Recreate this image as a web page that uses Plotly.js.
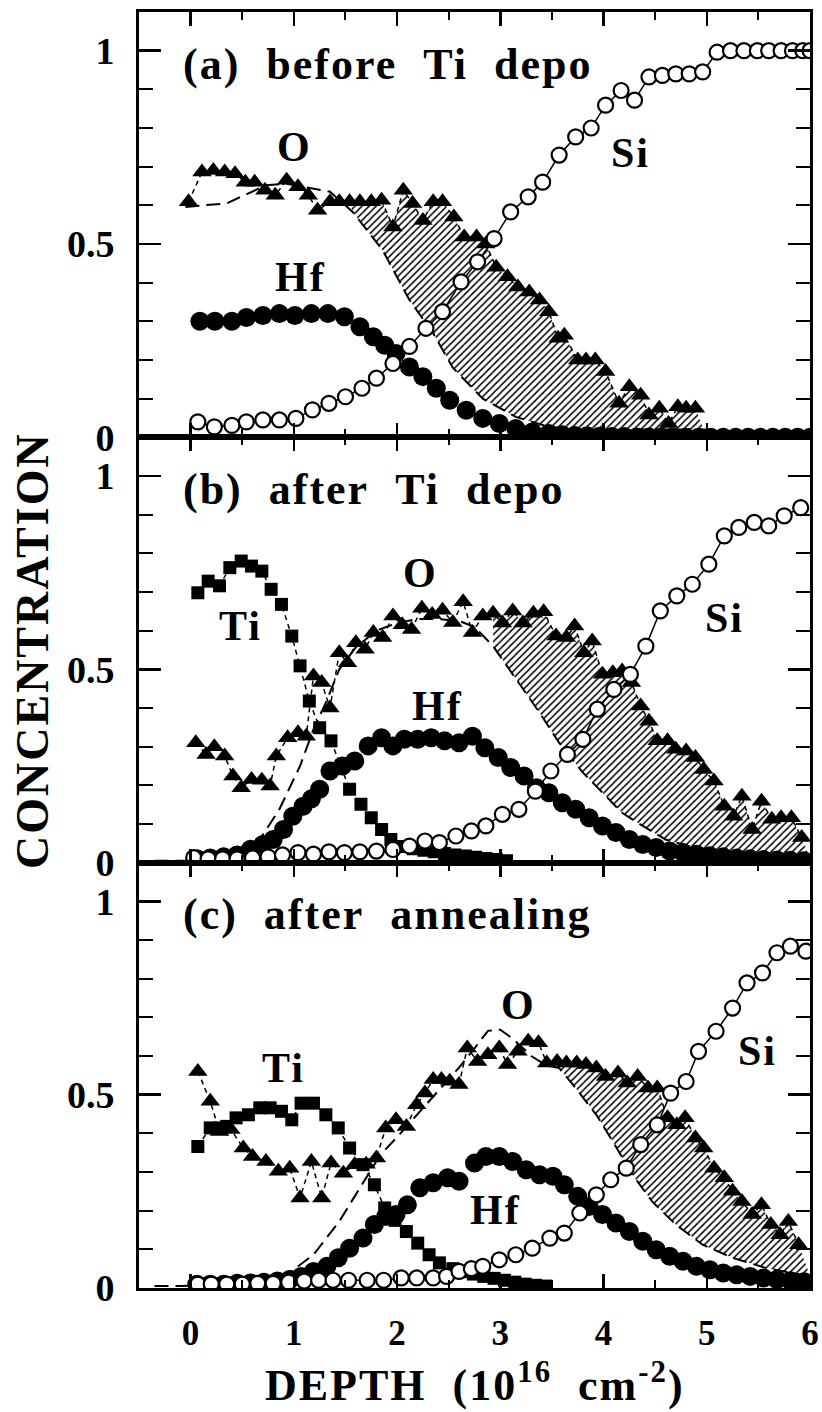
<!DOCTYPE html>
<html><head><meta charset="utf-8">
<script src="https://cdn.plot.ly/plotly-3.0.1.min.js"></script>
<style>
html,body{margin:0;padding:0;background:#fff;}
#chart{width:822px;height:1412px;}
.annotation-text{letter-spacing:2px;}
</style></head><body><div id="chart"></div>
<script>
// ---------- Panel (a) before Ti depo ----------
const aSiX = [0.07,0.23,0.40,0.54,0.70,0.86,1.02,1.18,1.34,1.50,1.66,1.80,1.96,2.12,2.28,2.44,2.62,2.78,2.94,3.10,3.27,3.41,3.57,3.73,3.88,4.02,4.17,4.30,4.44,4.57,4.70,4.83,4.96,5.10,5.23,5.36,5.49,5.60,5.72,5.83,5.93,6.00];
const aSiY = [0.04,0.027,0.031,0.04,0.045,0.045,0.049,0.071,0.088,0.105,0.127,0.153,0.191,0.235,0.282,0.325,0.402,0.454,0.514,0.583,0.622,0.66,0.73,0.777,0.80,0.859,0.897,0.872,0.932,0.936,0.94,0.94,0.945,0.996,1.0,1.0,1.0,1.0,1.0,1.0,1.0,1.0];
const aHfX = [0.09,0.235,0.40,0.54,0.70,0.86,1.01,1.17,1.33,1.49,1.64,1.77,1.88,1.99,2.12,2.25,2.38,2.51,2.67,2.83,2.99,3.15,3.31,3.47,3.60,3.72,3.84,3.96,4.08,4.20,4.32,4.44,4.56,4.68,4.80,4.92,5.04,5.16,5.28,5.40,5.52,5.64,5.76,5.88,6.0];
const aHfY = [0.30,0.30,0.30,0.31,0.315,0.32,0.315,0.32,0.32,0.312,0.286,0.26,0.238,0.217,0.182,0.157,0.127,0.096,0.07,0.049,0.036,0.023,0.014,0.01,0.007,0.005,0.004,0.003,0.002,0.002,0.001,0.001,0,0,0,0,0,0,0,0,0,0,0,0,0];
const aOX = [-0.02,0.11,0.22,0.33,0.43,0.53,0.62,0.72,0.82,0.93,1.04,1.14,1.23,1.35,1.44,1.54,1.64,1.75,1.85,1.96,2.06,2.15,2.25,2.35,2.44,2.55,2.65,2.77,2.86,2.96,3.07,3.17,3.28,3.38,3.47,3.56,3.62,3.75,3.83,3.92,4.02,4.15,4.25,4.36,4.44,4.54,4.63,4.72,4.80,4.89];
const aOY = [0.609,0.686,0.69,0.686,0.682,0.66,0.66,0.639,0.626,0.665,0.648,0.626,0.587,0.609,0.609,0.609,0.609,0.609,0.613,0.544,0.639,0.605,0.561,0.609,0.609,0.57,0.518,0.518,0.50,0.44,0.415,0.389,0.376,0.355,0.325,0.256,0.264,0.20,0.20,0.20,0.17,0.088,0.131,0.109,0.058,0.075,0.036,0.079,0.075,0.075];
const aDashX = [-0.05,0.35,0.73,0.93,1.35,1.57,1.86,2.12,2.35,2.54,2.83,3.15,3.47,3.80,4.44,4.97,5.5,6.0];
const aDashY = [0.596,0.605,0.652,0.656,0.635,0.583,0.484,0.355,0.269,0.18,0.10,0.053,0.027,0.019,0.02,0.02,0.01,0.005];
const aHatchRange = [1.54, 4.97];

// ---------- Panel (b) after Ti depo ----------
const bTiX = [0.07,0.17,0.28,0.38,0.49,0.59,0.69,0.78,0.88,0.98,1.06,1.15,1.25,1.36,1.54,1.65,1.75,1.85,1.94,2.06,2.16,2.26,2.36,2.46,2.56,2.66,2.76,2.86,2.96,3.06];
const bTiY = [0.698,0.728,0.716,0.763,0.78,0.767,0.754,0.707,0.668,0.586,0.509,0.418,0.349,0.315,0.19,0.151,0.116,0.086,0.06,0.042,0.036,0.032,0.028,0.024,0.02,0.017,0.014,0.011,0.008,0.005];
const bOX = [0.05,0.15,0.23,0.33,0.41,0.49,0.59,0.69,0.77,0.83,0.94,1.04,1.12,1.19,1.27,1.35,1.44,1.52,1.60,1.69,1.77,1.86,1.96,2.05,2.14,2.24,2.34,2.44,2.54,2.64,2.73,2.83,2.93,3.02,3.12,3.22,3.32,3.42,3.54,3.64,3.72,3.81,3.89,3.99,4.09,4.18,4.27,4.36,4.44,4.52,4.62,4.70,4.80,4.89,4.97,5.07,5.17,5.26,5.34,5.44,5.53,5.63,5.72,5.82,5.92];
const bOY = [0.31,0.28,0.30,0.276,0.224,0.194,0.215,0.213,0.198,0.276,0.323,0.336,0.327,0.483,0.466,0.40,0.543,0.517,0.569,0.552,0.595,0.582,0.638,0.615,0.603,0.658,0.642,0.653,0.621,0.675,0.595,0.638,0.645,0.62,0.651,0.62,0.645,0.649,0.586,0.582,0.612,0.543,0.573,0.487,0.491,0.496,0.466,0.405,0.366,0.315,0.315,0.293,0.289,0.272,0.241,0.211,0.146,0.12,0.172,0.086,0.159,0.112,0.116,0.116,0.065];
const bHfX = [0.06,0.19,0.32,0.45,0.58,0.70,0.80,0.90,0.99,1.09,1.17,1.25,1.35,1.47,1.59,1.72,1.85,1.96,2.07,2.20,2.33,2.46,2.60,2.73,2.85,2.98,3.10,3.23,3.35,3.47,3.60,3.73,3.86,3.99,4.12,4.25,4.38,4.51,4.64,4.77,4.90,5.03,5.16,5.29,5.42,5.55,5.68,5.81,5.94];
const bHfY = [0.01,0.012,0.015,0.02,0.035,0.047,0.06,0.086,0.12,0.146,0.165,0.19,0.237,0.25,0.263,0.302,0.323,0.302,0.319,0.319,0.323,0.315,0.31,0.327,0.297,0.272,0.246,0.224,0.194,0.181,0.155,0.138,0.116,0.095,0.078,0.06,0.047,0.039,0.03,0.026,0.022,0.018,0.015,0.012,0.01,0.008,0.007,0.006,0.005];
const bSiX = [0.03,0.17,0.31,0.45,0.60,0.75,0.89,1.04,1.19,1.34,1.49,1.64,1.80,1.96,2.12,2.27,2.41,2.57,2.72,2.86,3.02,3.18,3.34,3.49,3.65,3.80,3.94,4.10,4.26,4.41,4.55,4.71,4.86,5.02,5.17,5.31,5.46,5.60,5.75,5.91];
const bSiY = [0.013,0.01,0.01,0.01,0.012,0.015,0.02,0.026,0.022,0.028,0.026,0.028,0.03,0.034,0.043,0.056,0.052,0.069,0.082,0.095,0.125,0.138,0.185,0.237,0.28,0.319,0.397,0.448,0.487,0.56,0.651,0.69,0.72,0.772,0.845,0.867,0.88,0.871,0.897,0.918];
const bDashX = [-0.35,-0.1,0.3,0.5,0.67,0.86,1.06,1.19,1.31,1.44,1.60,1.80,2.0,2.2,2.4,2.6,2.75,2.93,3.09,3.25,3.38,3.57,3.80,3.99,4.18,4.38,4.60,4.93,5.41,5.92,6.0];
const bDashY = [0.005,0.005,0.005,0.02,0.06,0.138,0.25,0.345,0.414,0.50,0.557,0.60,0.62,0.63,0.63,0.625,0.61,0.56,0.50,0.44,0.388,0.31,0.233,0.181,0.129,0.095,0.06,0.034,0.017,0.01,0.01];
const bHatchRange = [2.9, 6.0];

// ---------- Panel (c) after annealing ----------
const cTiX = [0.07,0.19,0.28,0.35,0.44,0.56,0.67,0.77,0.88,0.98,1.07,1.19,1.31,1.43,1.54,1.67,1.78,1.88,1.98,2.09,2.20,2.31,2.41,2.54,2.64,2.74,2.84,2.94,3.04,3.14,3.24,3.34,3.44];
const cTiY = [0.366,0.414,0.414,0.418,0.44,0.448,0.466,0.466,0.457,0.435,0.478,0.478,0.448,0.414,0.362,0.319,0.267,0.207,0.175,0.146,0.116,0.086,0.065,0.05,0.042,0.036,0.03,0.025,0.02,0.015,0.01,0.007,0.005];
const cOX = [0.07,0.19,0.28,0.39,0.51,0.60,0.73,0.85,0.96,1.06,1.17,1.27,1.36,1.48,1.59,1.70,1.80,1.89,1.99,2.09,2.19,2.27,2.35,2.43,2.51,2.60,2.68,2.78,2.88,2.99,3.07,3.17,3.27,3.37,3.45,3.55,3.64,3.74,3.83,3.93,4.02,4.14,4.23,4.33,4.43,4.52,4.62,4.71,4.79,4.89,4.97,5.07,5.17,5.25,5.34,5.44,5.53,5.62,5.71,5.79,5.89];
const cOY = [0.56,0.483,0.405,0.41,0.362,0.34,0.327,0.302,0.31,0.233,0.327,0.233,0.323,0.297,0.319,0.32,0.336,0.414,0.435,0.418,0.474,0.504,0.539,0.539,0.535,0.526,0.621,0.586,0.603,0.621,0.578,0.612,0.638,0.634,0.582,0.586,0.582,0.582,0.578,0.569,0.547,0.556,0.53,0.547,0.517,0.517,0.44,0.422,0.44,0.388,0.362,0.31,0.285,0.25,0.224,0.19,0.215,0.164,0.138,0.172,0.112];
const cHfX = [0.06,0.19,0.32,0.45,0.58,0.71,0.84,0.96,1.07,1.19,1.32,1.43,1.54,1.67,1.78,1.89,1.99,2.10,2.22,2.35,2.49,2.60,2.75,2.86,2.99,3.12,3.25,3.38,3.51,3.62,3.75,3.86,3.99,4.12,4.25,4.38,4.51,4.64,4.77,4.90,5.03,5.16,5.29,5.42,5.55,5.68,5.81,5.94];
const cHfY = [0.01,0.01,0.01,0.012,0.013,0.015,0.018,0.022,0.03,0.043,0.056,0.078,0.103,0.129,0.164,0.185,0.19,0.215,0.259,0.272,0.285,0.276,0.323,0.34,0.34,0.327,0.306,0.293,0.289,0.267,0.237,0.211,0.19,0.168,0.146,0.121,0.099,0.082,0.069,0.056,0.047,0.039,0.034,0.03,0.026,0.022,0.019,0.016];
const cSiX = [0.07,0.20,0.35,0.50,0.65,0.80,0.95,1.10,1.24,1.38,1.53,1.71,1.87,2.04,2.19,2.35,2.48,2.60,2.72,2.83,2.99,3.15,3.31,3.48,3.62,3.77,3.93,4.07,4.22,4.36,4.52,4.65,4.80,4.92,5.09,5.25,5.39,5.54,5.68,5.81,5.96];
const cSiY = [0.01,0.01,0.01,0.01,0.012,0.012,0.015,0.018,0.02,0.02,0.02,0.02,0.02,0.026,0.026,0.026,0.03,0.043,0.05,0.056,0.073,0.086,0.103,0.129,0.142,0.194,0.241,0.28,0.31,0.371,0.422,0.504,0.534,0.612,0.664,0.724,0.789,0.815,0.867,0.884,0.871];
const cDashX = [-0.35,-0.1,0.4,0.93,1.19,1.44,1.64,1.84,2.0,2.2,2.4,2.6,2.75,2.88,3.0,3.12,3.3,3.45,3.57,3.73,3.93,4.09,4.28,4.47,4.70,4.96,5.25,5.57,5.92,6.0];
const cDashY = [0.005,0.005,0.01,0.034,0.086,0.172,0.259,0.345,0.39,0.45,0.51,0.57,0.62,0.665,0.668,0.645,0.6,0.575,0.569,0.517,0.448,0.379,0.293,0.224,0.164,0.112,0.078,0.052,0.034,0.032];
const cHatchRange = [3.4, 6.0];

// ---------- Text ----------
const panelTitles = ['(a)\u00A0\u00A0before\u00A0\u00A0Ti\u00A0\u00A0depo', '(b)\u00A0\u00A0after\u00A0\u00A0Ti\u00A0\u00A0depo', '(c)\u00A0\u00A0after\u00A0\u00A0annealing'];
const xTitle = 'DEPTH\u00A0\u00A0(10<sup>16</sup>\u00A0\u00A0cm<sup>-2</sup>)';
const yTitle = 'CONCENTRATION';

const FONT = '"Liberation Serif", "Times New Roman", serif';

function slice(xs, ys, lo, hi) {
  const ox = [], oy = [];
  for (let i = 0; i < xs.length; i++) if (xs[i] >= lo && xs[i] <= hi) { ox.push(xs[i]); oy.push(ys[i]); }
  return [ox, oy];
}

const panels = [
  {xa:'x',  ya:'y',  Si:[aSiX,aSiY], Hf:[aHfX,aHfY], O:[aOX,aOY], Ti:null,        D:[aDashX,aDashY], H:aHatchRange},
  {xa:'x2', ya:'y2', Si:[bSiX,bSiY], Hf:[bHfX,bHfY], O:[bOX,bOY], Ti:[bTiX,bTiY], D:[bDashX,bDashY], H:bHatchRange},
  {xa:'x3', ya:'y3', Si:[cSiX,cSiY], Hf:[cHfX,cHfY], O:[cOX,cOY], Ti:[cTiX,cTiY], D:[cDashX,cDashY], H:cHatchRange}
];

const traces = [];
panels.forEach(p => {
  const base = {xaxis:p.xa, yaxis:p.ya, showlegend:false, hoverinfo:'skip', cliponaxis:true};
  const lo = slice(p.D[0], p.D[1], p.H[0], p.H[1]);
  const up = slice(p.O[0], p.O[1], p.H[0], p.H[1]);
  traces.push(Object.assign({}, base, {type:'scatter', mode:'lines', x:lo[0], y:lo[1], line:{width:0, color:'rgba(0,0,0,0)'}}));
  traces.push(Object.assign({}, base, {type:'scatter', mode:'lines', x:up[0], y:up[1], line:{width:0, color:'rgba(0,0,0,0)'},
    fill:'tonexty', fillcolor:'white',
    fillpattern:{shape:'/', size:5, solidity:0.3, fgcolor:'black', bgcolor:'white'}}));
  traces.push(Object.assign({}, base, {type:'scatter', mode:'lines', x:p.D[0], y:p.D[1],
    line:{color:'black', width:2, dash:'14px,7px'}}));
  traces.push(Object.assign({}, base, {type:'scatter', mode:'lines+markers', x:p.O[0], y:p.O[1],
    line:{color:'black', width:1.5, dash:'5px,4px'},
    marker:{symbol:'triangle-up', size:17, color:'black'}}));
  if (p.Ti) traces.push(Object.assign({}, base, {type:'scatter', mode:'lines+markers', x:p.Ti[0], y:p.Ti[1],
    line:{color:'black', width:1.5, dash:'5px,4px'},
    marker:{symbol:'square', size:13, color:'black'}}));
  traces.push(Object.assign({}, base, {type:'scatter', mode:'markers', x:p.Hf[0], y:p.Hf[1],
    marker:{symbol:'circle', size:19, color:'black'}}));
  traces.push(Object.assign({}, base, {type:'scatter', mode:'lines+markers', x:p.Si[0], y:p.Si[1],
    line:{color:'black', width:1.5},
    marker:{symbol:'circle', size:15, color:'white', line:{color:'black', width:2.2}}}));
});

function xAxis(anchor, showLabels) {
  return {anchor:anchor, matches: anchor==='y' ? undefined : 'x', range:[-0.5, 6.0], showgrid:false, zeroline:false,
    showline:true, linewidth:3, linecolor:'black', mirror:'ticks',
    ticks:'inside', ticklen:14, tickwidth:2.5, tickcolor:'black', tickmode:'linear', tick0:0, dtick:1,
    minor:{ticks:'inside', ticklen:8, tickwidth:2, tickcolor:'black', dtick:0.5},
    showticklabels:showLabels, ticklabelstandoff:12,
    tickfont:{family:FONT, size:35, color:'black', weight:'bold'}};
}
function yAxis(anchor, domain) {
  return {anchor:anchor, domain:domain, range:[0, 1.1], showgrid:false, zeroline:false,
    showline:true, linewidth:3, linecolor:'black', mirror:'ticks',
    ticks:'inside', ticklen:22, tickwidth:2.5, tickcolor:'black', tickmode:'linear', tick0:0, dtick:0.5,
    minor:{ticks:'inside', ticklen:14, tickwidth:2, tickcolor:'black', dtick:0.1},
    ticklabelstandoff:14,
    tickfont:{family:FONT, size:38, color:'black', weight:'bold'}};
}

const lab = (xr, yr, x, y, t) => ({xref:xr, yref:yr, x:x, y:y, text:t, showarrow:false, xanchor:'center', yanchor:'middle',
  font:{family:FONT, size:42, color:'black', weight:'bold'}});
const ttl = (xr, yr, t) => ({xref:xr, yref:yr, x:-0.09, y:0.965, text:t, showarrow:false, xanchor:'left', yanchor:'middle',
  font:{family:FONT, size:44, color:'black', weight:'bold'}});

const annotations = [
  ttl('x','y',panelTitles[0]), lab('x','y',1.01,0.751,'O'), lab('x','y',1.06,0.415,'Hf'), lab('x','y',4.26,0.735,'Si'),
  ttl('x2','y2',panelTitles[1]), lab('x2','y2',0.48,0.612,'Ti'), lab('x2','y2',2.23,0.75,'O'), lab('x2','y2',2.39,0.405,'Hf'), lab('x2','y2',5.17,0.634,'Si'),
  ttl('x3','y3',panelTitles[2]), lab('x3','y3',0.90,0.569,'Ti'), lab('x3','y3',3.18,0.733,'O'), lab('x3','y3',2.95,0.203,'Hf'), lab('x3','y3',5.49,0.612,'Si'),
  {xref:'paper', yref:'paper', x:-0.1595, y:0.5, text:yTitle, textangle:-90, showarrow:false, xanchor:'center', yanchor:'middle',
    font:{family:FONT, size:46, color:'black', weight:'bold'}},
  {xref:'paper', yref:'paper', x:0.5, y:-0.0737, text:xTitle, showarrow:false, xanchor:'center', yanchor:'middle',
    font:{family:FONT, size:44, color:'black', weight:'bold'}}
];

const layout = {
  width:822, height:1412, margin:{l:139, r:12, t:12, b:124},
  paper_bgcolor:'white', plot_bgcolor:'white', showlegend:false,
  xaxis:xAxis('y', false), xaxis2:xAxis('y2', false), xaxis3:xAxis('y3', true),
  yaxis:yAxis('x', [2/3, 1]), yaxis2:yAxis('x2', [1/3, 2/3]), yaxis3:yAxis('x3', [0, 1/3]),
  annotations:annotations
};

Plotly.newPlot('chart', traces, layout, {staticPlot:true, displayModeBar:false});
</script></body></html>
